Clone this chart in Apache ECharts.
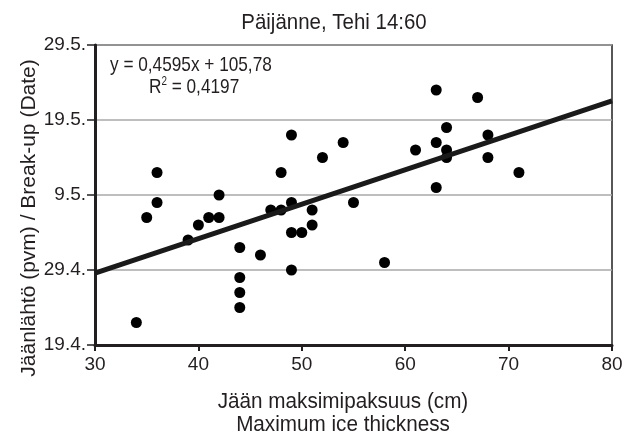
<!DOCTYPE html>
<html><head><meta charset="utf-8">
<script src="https://cdn.jsdelivr.net/npm/echarts@6/dist/echarts.min.js"></script>
<style>html,body{margin:0;padding:0;background:#fff}#c{width:637px;height:443px}</style>
</head><body><div id="c"></div>
<script>
// Ice thickness (cm)
const thickness = [34,35,36,36,39,40,41,42,42,44,44,44,44,46,47,48,48,49,49,49,49,50,51,51,52,54,55,58,61,63,63,63,64,64,64,67,68,68,71];
// Break-up day (day number; 110 = 19.4., 120 = 29.4., 130 = 9.5., 140 = 19.5., 150 = 29.5.)
const breakupDay = [113,127,129,133,124,126,127,127,130,123,119,117,115,122,128,128,133,129,125,120,138,125,128,126,135,137,129,121,136,144,137,131,139,136,135,143,138,135,133];
const yTickValues = [110,120,130,140,150];
const yTickLabels = ['19.4.','29.4.','9.5.','19.5.','29.5.'];
const xTicks = [30,40,50,60,70,80];
// Trend line endpoints y = 0,4595x + 105,78
const trendX = [30,80];
const trendY = [119.57,142.54];

const FONT = "'Liberation Sans','Arial',sans-serif";
const TXT = '#231f20';
const chart = echarts.init(document.getElementById('c'), null, {renderer:'canvas'});
chart.setOption({
  animation:false,
  grid:{left:95,right:25,top:45,bottom:98,show:true,borderColor:'#231f20',borderWidth:1.5},
  xAxis:{type:'value',min:xTicks[0],max:xTicks[xTicks.length-1],interval:10,
    axisLine:{show:true,onZero:false,lineStyle:{color:'#231f20',width:3}},
    axisTick:{show:true,length:6,lineStyle:{color:'#231f20',width:2}},
    axisLabel:{fontFamily:FONT,fontSize:19,color:TXT,margin:10},
    splitLine:{show:false}},
  yAxis:{type:'value',min:yTickValues[0],max:yTickValues[yTickValues.length-1],interval:10,
    axisLine:{show:true,onZero:false,lineStyle:{color:'#231f20',width:3}},
    axisTick:{show:true,length:8,lineStyle:{color:'#231f20',width:1.5}},
    axisLabel:{fontFamily:FONT,fontSize:19,color:TXT,margin:9,
      formatter:v=>{const i=yTickValues.indexOf(v);return i>=0?yTickLabels[i]:'';}},
    splitLine:{show:true,lineStyle:{color:'#a9a9a9',width:1.5}}},
  graphic:[
    {type:'text',x:334,y:23,scaleX:0.93,style:{text:'Päijänne, Tehi 14:60',font:'22px '+FONT,fill:TXT,align:'center',verticalAlign:'middle'}},
    {type:'text',x:343,y:402,scaleX:0.94,style:{text:'Jään maksimipaksuus (cm)',font:'22px '+FONT,fill:TXT,align:'center',verticalAlign:'middle'}},
    {type:'text',x:343,y:425,scaleX:0.94,style:{text:'Maximum ice thickness',font:'22px '+FONT,fill:TXT,align:'center',verticalAlign:'middle'}},
    {type:'text',x:29,y:218,rotation:Math.PI/2,style:{text:'Jäänlähtö (pvm) / Break-up (Date)',font:'21px '+FONT,fill:TXT,align:'center',verticalAlign:'middle'}},
    {type:'text',x:110,y:65,scaleX:0.82,style:{text:'y = 0,4595x + 105,78',font:'21px '+FONT,fill:TXT,align:'left',verticalAlign:'middle'}},
    {type:'text',x:149,y:87,scaleX:0.82,style:{text:'{a|R}{s|2}{a| = 0,4197}',verticalAlign:'middle',rich:{a:{font:'21px '+FONT,fill:TXT,verticalAlign:'bottom'},s:{font:'12px '+FONT,fill:TXT,verticalAlign:'top',padding:[0,0,10,0]}}}}
  ],
  series:[
    {type:'scatter',symbol:'circle',symbolSize:11,itemStyle:{color:'#000',opacity:1},z:3,
     data:thickness.map((x,i)=>[x,breakupDay[i]])},
    {type:'line',symbol:'none',lineStyle:{color:'#1a1a1a',width:5},z:4,
     data:trendX.map((x,i)=>[x,trendY[i]])}
  ]
});
</script></body></html>
